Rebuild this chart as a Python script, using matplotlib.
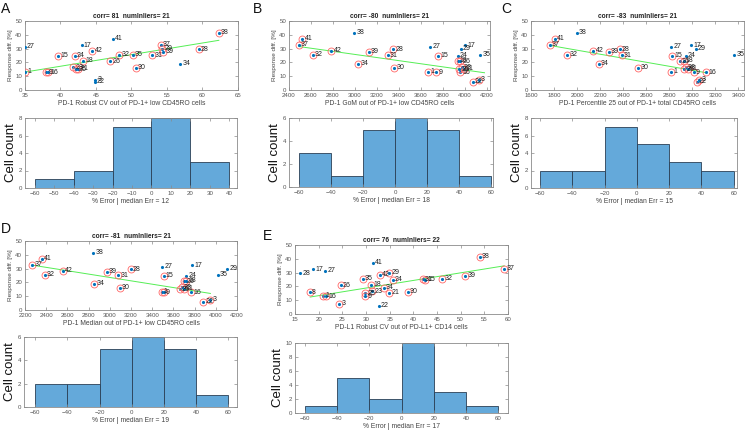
import matplotlib
matplotlib.use("Agg")
import matplotlib.pyplot as plt
import numpy as np

plt.rcParams['font.family'] = ['Liberation Sans', 'DejaVu Sans']

# ---- shared response differences (y) by subject id ----
resp_ids = [1, 3, 8, 9, 15, 16, 17, 18, 21, 22, 23, 24, 25, 26, 27, 28, 29, 30, 31, 32, 34, 35, 37, 38, 39, 41, 42]
resp_diff = [13.3, 7.5, 15.8, 13.0, 25.0, 13.0, 32.5, 21.3, 15.5, 6.0, 16.5, 25.0, 15.0, 20.7, 31.5, 29.5, 30.0,
             16.3, 25.3, 25.5, 19.0, 25.7, 32.7, 41.6, 27.8, 37.3, 28.5]

# ---- Panel A ----
a_ids = [27, 1, 9, 16, 15, 24, 17, 42, 41, 18, 21, 23, 25, 3, 22, 26, 32, 35, 30, 31, 37, 29, 39, 34, 28, 38]
a_x = [35.0, 35.0, 38.0, 38.3, 39.7, 42.0, 43.0, 44.5, 47.4, 43.2, 42.5, 41.8, 42.2, 44.9, 44.8, 47.0, 48.3, 50.2,
       50.6, 52.9, 54.1, 54.3, 54.5, 56.9, 59.5, 62.3]
a_out = [27, 17, 41, 3, 22, 34]
a_fit_x = [35.0, 62.3]
a_fit_y = [13.0, 36.0]
a_counts = [1, 2, 7, 8, 3]
a_edges = [-60, -40, -20, 0, 20, 40]

# ---- Panel B ----
b_ids = [41, 38, 37, 32, 42, 39, 31, 28, 34, 30, 27, 15, 1, 9, 17, 29, 24, 18, 26, 35, 22, 3, 16, 21, 23, 25]
b_x = [2522, 2993, 2491, 2616, 2786, 3126, 3297, 3351, 3032, 3360, 3686, 3756, 3670, 3740, 4005, 3965, 3935, 3935,
       3960, 4141, 4075, 4126, 3960, 3990, 3975, 3950]
b_out = [38, 27, 17, 29, 24, 35]
b_fit_x = [2491, 4180]
b_fit_y = [31.5, 12.5]
b_counts = [3, 1, 5, 6, 5, 1]
b_edges = [-60, -40, -20, 0, 20, 40, 60]

# ---- Panel C ----
c_ids = [41, 37, 38, 32, 42, 39, 28, 31, 34, 30, 27, 15, 1, 17, 29, 24, 26, 18, 23, 25, 21, 9, 16, 22, 3, 35]
c_x = [1805, 1763, 2000, 1914, 2142, 2276, 2370, 2390, 2190, 2533, 2818, 2824, 2818, 2989, 3032, 2946, 2890, 2927,
       2946, 2930, 2960, 3012, 3123, 3041, 3061, 3366]
c_out = [38, 27, 17, 29, 24, 35]
c_fit_x = [1763, 3123]
c_fit_y = [32.3, 12.5]
c_counts = [2, 2, 7, 5, 3, 2]
c_edges = [-60, -40, -20, 0, 20, 40, 60]

# ---- Panel D ----
d_ids = [41, 37, 38, 32, 42, 39, 31, 28, 34, 30, 27, 15, 1, 9, 17, 29, 35, 24, 26, 18, 25, 23, 21, 16, 22, 3]
d_x = [2357, 2269, 2844, 2388, 2561, 2969, 3079, 3198, 2853, 3095, 3497, 3509, 3490, 3509, 3779, 4109, 4021, 3723,
       3701, 3723, 3660, 3680, 3700, 3770, 3880, 3949]
d_out = [38, 27, 17, 29, 35, 24]
d_fit_x = [2269, 3949]
d_fit_y = [32.5, 12.0]
d_counts = [2, 2, 5, 6, 5, 1]
d_edges = [-60, -40, -20, 0, 20, 40, 60]

# ---- Panel E ----
e_ids = [28, 17, 27, 8, 1, 16, 3, 26, 35, 41, 42, 29, 24, 18, 23, 25, 9, 34, 21, 22, 30, 31, 15, 32, 39, 38, 37]
e_x = [16.1, 18.9, 21.4, 18.2, 21.0, 21.6, 24.4, 24.7, 29.3, 31.5, 32.9, 34.9, 35.6, 31.1, 31.3, 29.8, 29.8, 33.8,
       34.9, 32.7, 38.8, 42.0, 42.5, 46.1, 51.0, 54.1, 59.2]
e_out = [28, 17, 27, 41, 22]
e_fit_x = [18.2, 59.2]
e_fit_y = [12.3, 34.9]
e_counts = [1, 5, 2, 10, 3, 1]
e_edges = [-60, -40, -20, 0, 20, 40, 60]

W, H = 750, 430
fig = plt.figure(figsize=(7.5, 4.3), dpi=100)

def ax_px(l, t, r, b):
    return fig.add_axes([l / W, 1 - b / H, (r - l) / W, (b - t) / H])

AXC = '#8a8a8a'
TXC = '#555555'

def style(ax):
    for s in ax.spines.values():
        s.set_color(AXC)
        s.set_linewidth(0.6)
    ax.tick_params(direction='in', length=2, width=0.5, colors=AXC, labelcolor=TXC, labelsize=4.4, pad=2,
                   top=True, right=True)

ymap = dict(zip(resp_ids, resp_diff))

def scatter_panel(box, ids, xs, outs, fx, fy, xlim, xticks, title, xlabel):
    ax = ax_px(*box)
    ys = [ymap[i] for i in ids]
    ax.plot(fx, fy, color='#55ee55', lw=0.7, zorder=2)
    for i, x, y in zip(ids, xs, ys):
        ax.plot([x], [y], '.', color='#0072BD', ms=2.5, zorder=3)
        if i not in outs:
            ax.plot([x], [y], 'o', mfc='none', mec='#ff6666', ms=5, mew=0.6, zorder=3)
        ax.annotate(str(i), (x, y), xytext=(1.5, 0), textcoords='offset points', fontsize=5,
                    va='center', ha='left', color='#222222', zorder=4)
    ax.set_xlim(*xlim)
    ax.set_ylim(0, 50)
    ax.set_xticks(xticks)
    ax.set_yticks([0, 10, 20, 30, 40, 50])
    style(ax)
    ax.set_title(title, fontsize=4.8, fontweight='bold', pad=2, color='#222222')
    ax.set_xlabel(xlabel, fontsize=4.9, color='#444444', labelpad=1.5)
    ax.set_ylabel('Response diff. [%]', fontsize=4.6, color='#444444', labelpad=1.5)
    return ax

def hist_panel(box, counts, edges, xlim, xticks, ylim, yticks, xlabel):
    ax = ax_px(*box)
    edges = np.array(edges)
    ax.bar(edges[:-1], counts, width=np.diff(edges), align='edge', color='#64a9da',
           edgecolor='#2a3f55', linewidth=0.6)
    ax.set_xlim(*xlim)
    ax.set_ylim(*ylim)
    ax.set_xticks(xticks)
    ax.set_yticks(yticks)
    style(ax)
    ax.set_xlabel(xlabel, fontsize=4.9, color='#444444', labelpad=1.5)
    ax.set_ylabel('Cell count', fontsize=9.5, color='#111111', labelpad=1)
    return ax

# A
scatter_panel((25, 21, 238, 90), a_ids, a_x, a_out, a_fit_x, a_fit_y, (35, 65), range(35, 66, 5),
              'corr= 81  numInliers= 21', 'PD-1 Robust CV out of PD-1+ low CD45RO cells')
hist_panel((25, 118, 237, 188), a_counts, a_edges, (-65, 44), range(-60, 41, 10), (0, 8), [0, 2, 4, 6, 8],
           '% Error | median Err = 12')
# B
scatter_panel((289, 21, 490, 90), b_ids, b_x, b_out, b_fit_x, b_fit_y, (2400, 4230), range(2400, 4201, 200),
              'corr= -80  numInliers= 21', 'PD-1 GoM out of PD-1+ low CD45RO cells')
hist_panel((289, 118, 493, 187), b_counts, b_edges, (-66, 61), range(-60, 61, 20), (0, 6), [0, 2, 4, 6],
           '% Error | median Err = 18')
# C
scatter_panel((531, 21, 744, 90), c_ids, c_x, c_out, c_fit_x, c_fit_y, (1600, 3450), range(1600, 3401, 200),
              'corr= -83  numInliers= 21', 'PD-1 Percentile 25 out of PD-1+ total CD45RO cells')
hist_panel((531, 118, 737, 188), c_counts, c_edges, (-65.5, 62), range(-60, 61, 20), (0, 8), [0, 2, 4, 6, 8],
           '% Error | median Err = 15')
# D
scatter_panel((25, 241, 237, 310), d_ids, d_x, d_out, d_fit_x, d_fit_y, (2200, 4200), range(2200, 4201, 200),
              'corr= -81  numInliers= 21', 'PD-1 Median out of PD-1+ low CD45RO cells')
hist_panel((24, 337, 237, 407), d_counts, d_edges, (-67, 65.5), range(-60, 61, 20), (0, 6), [0, 2, 4, 6],
           '% Error | median Err = 19')
# E
scatter_panel((295, 245, 508, 314), e_ids, e_x, e_out, e_fit_x, e_fit_y, (15, 60), range(15, 61, 5),
              'corr= 76  numInliers= 22', 'PD-L1 Robust CV out of PD-L1+ CD14 cells')
hist_panel((295, 343, 508, 413), e_counts, e_edges, (-66, 66), range(-60, 61, 20), (0, 10), [0, 2, 4, 6, 8, 10],
           '% Error | median Err = 17')

# panel letters
for lab, x, y in [('A', 6, 9), ('B', 257, 9), ('C', 506, 9), ('D', 6, 229), ('E', 268, 236)]:
    fig.text(x / W, 1 - y / H, lab, fontsize=10, ha='center', va='center', color='#111111')

fig.savefig('out.png', dpi=100)
